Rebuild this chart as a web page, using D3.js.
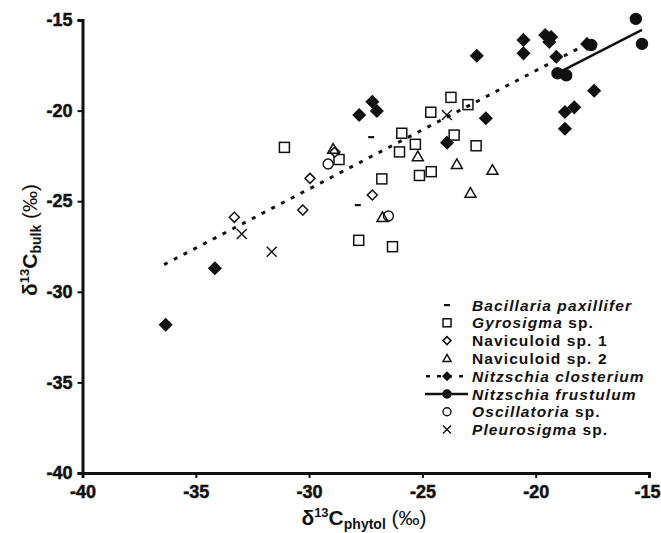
<!DOCTYPE html>
<html>
<head>
<meta charset="utf-8">
<script src="https://cdn.jsdelivr.net/npm/d3@7"></script>
<style>
  body { margin: 0; background: #fff; }
  svg text { font-family: "Liberation Sans", Arial, sans-serif; fill: #111; }
</style>
</head>
<body>
<div id="chart"></div>
<script>
// data: d13C phytol (x) vs d13C bulk (y)
const bacillariaX = [-27.26, -27.85];
const bacillariaY = [-21.46, -25.21];

const gyrosigmaX = [-31.09, -28.68, -26.79, -25.13, -24.61, -26.01, -25.31, -25.91, -24.63, -23.74, -22.99, -23.60, -22.63, -27.81, -26.32];
const gyrosigmaY = [-22.03, -22.70, -23.77, -23.58, -23.37, -22.28, -21.86, -21.25, -20.09, -19.27, -19.67, -21.35, -21.94, -27.16, -27.51];

const navi1X = [-33.30, -30.28, -29.96, -27.21, -28.86];
const navi1Y = [-25.89, -25.49, -23.74, -24.66, -22.28];

const navi2X = [-28.94, -25.20, -23.48, -21.91, -22.88, -26.76];
const navi2Y = [-22.12, -22.54, -22.97, -23.29, -24.55, -25.89];

const closteriumX = [-36.33, -34.16, -27.79, -27.21, -27.01, -23.91, -22.60, -22.20, -20.54, -20.54, -19.58, -19.32, -19.40, -19.09, -17.42, -18.30, -18.71, -18.71, -17.73];
const closteriumY = [-31.82, -28.70, -20.24, -19.51, -20.02, -21.77, -16.97, -20.42, -16.10, -16.84, -15.83, -15.94, -16.21, -17.03, -18.90, -19.82, -20.08, -21.00, -16.32];
const closteriumFitX = [-36.4, -17.7];
const closteriumFitY = [-28.5, -16.3];

const frustulumX = [-15.58, -15.31, -17.55, -19.04, -18.65];
const frustulumY = [-14.94, -16.32, -16.38, -17.94, -18.05];
const frustulumFitX = [-18.84, -15.31];
const frustulumFitY = [-17.81, -15.55];

const oscillatoriaX = [-29.16, -26.50];
const oscillatoriaY = [-22.95, -25.82];

const pleurosigmaX = [-23.92, -32.97, -31.65];
const pleurosigmaY = [-20.24, -26.81, -27.79];

const xTicks = [-40, -35, -30, -25, -20, -15];
const yTicks = [-40, -35, -30, -25, -20, -15];

const width = 661, height = 533;

const svg = d3.select("#chart").append("svg")
    .attr("width", width)
    .attr("height", height);

const x = d3.scaleLinear().domain([-40, -15]).range([82.5, 649]);
const y = d3.scaleLinear().domain([-40, -15]).range([473, 20]);

// axes
const xAxis = svg.append("g")
    .attr("transform", "translate(0," + y(-40) + ")")
    .call(d3.axisBottom(x).tickValues(xTicks).tickSize(5).tickPadding(7).tickFormat(d => String(d)));
const yAxis = svg.append("g")
    .attr("transform", "translate(" + x(-40) + ",0)")
    .call(d3.axisLeft(y).tickValues(yTicks).tickSize(5).tickPadding(5).tickFormat(d => String(d)));

[xAxis, yAxis].forEach(g => {
    g.attr("font-size", 18).attr("font-weight", "bold").attr("font-family", "Liberation Sans, Arial, sans-serif");
    g.select(".domain").attr("stroke", "#111").attr("stroke-width", 3);
    g.selectAll(".tick line").attr("stroke", "#111").attr("stroke-width", 2);
    g.selectAll(".tick text")
        .attr("font-weight", "bold")
        .style("font-size", "18px")
        .style("font-weight", "bold")
        .attr("fill", "#111")
        .attr("stroke", "#111")
        .attr("stroke-width", 0.5);
});
// last x tick: no tick mark, label kept inside the picture
const lastTick = xAxis.selectAll(".tick").filter(d => d === -15);
lastTick.select("line").remove();
lastTick.select("text").attr("text-anchor", "end").attr("x", 11);

// axis titles
function axisTitle(g, sub) {
    g.append("tspan").text("δ").style("font-weight", "bold").style("font-size", "21px");
    g.append("tspan").text("13").attr("dy", -8).style("font-weight", "bold").style("font-size", "13px");
    g.append("tspan").text("C").attr("dy", 8).style("font-weight", "bold").style("font-size", "21px");
    g.append("tspan").text(sub).attr("dy", 4).style("font-weight", "bold").style("font-size", "14px");
    g.append("tspan").text(" (‰)").attr("dy", -4).style("font-size", "21px");
}
const xt = svg.append("text")
    .attr("x", 364).attr("y", 525)
    .attr("text-anchor", "middle");
axisTitle(xt, "phytol");

const yt = svg.append("text")
    .attr("transform", "translate(37,240) rotate(-90)")
    .attr("text-anchor", "middle");
axisTitle(yt, "bulk");

// fit lines
const line = d3.line().x(d => x(d[0])).y(d => y(d[1]));
svg.append("path")
    .datum(d3.zip(closteriumFitX, closteriumFitY))
    .attr("d", line)
    .attr("fill", "none")
    .attr("stroke", "#111")
    .attr("stroke-width", 3)
    .attr("stroke-dasharray", "4,7");
svg.append("path")
    .datum(d3.zip(frustulumFitX, frustulumFitY))
    .attr("d", line)
    .attr("fill", "none")
    .attr("stroke", "#111")
    .attr("stroke-width", 2.5);

// symbol drawing
function marker(g, kind, s) {
    const h = s / 2;
    if (kind === "dash") {
        g.append("rect").attr("x", -3).attr("y", -1).attr("width", 6).attr("height", 2.2).attr("fill", "#111");
    } else if (kind === "square") {
        g.append("rect").attr("x", -h).attr("y", -h).attr("width", s).attr("height", s)
            .attr("fill", "none").attr("stroke", "#111").attr("stroke-width", 1.5);
    } else if (kind === "diamond" || kind === "fdiamond") {
        g.append("path").attr("d", `M0,${-h}L${h},0L0,${h}L${-h},0Z`)
            .attr("fill", kind === "fdiamond" ? "#111" : "#fff")
            .attr("stroke", "#111").attr("stroke-width", 1.5);
    } else if (kind === "triangle") {
        g.append("path").attr("d", `M0,${-h}L${h},${h * 0.75}L${-h},${h * 0.75}Z`)
            .attr("fill", "none").attr("stroke", "#111").attr("stroke-width", 1.5);
    } else if (kind === "circle" || kind === "fcircle") {
        g.append("circle").attr("r", h)
            .attr("fill", kind === "fcircle" ? "#111" : "none")
            .attr("stroke", "#111").attr("stroke-width", 1.4);
    } else if (kind === "cross") {
        g.append("path").attr("d", `M${-h},${-h}L${h},${h}M${-h},${h}L${h},${-h}`)
            .attr("stroke", "#111").attr("stroke-width", 1.4);
    }
}

const series = [
    { xs: bacillariaX, ys: bacillariaY, kind: "dash", size: 6 },
    { xs: gyrosigmaX, ys: gyrosigmaY, kind: "square", size: 10 },
    { xs: navi1X, ys: navi1Y, kind: "diamond", size: 10 },
    { xs: navi2X, ys: navi2Y, kind: "triangle", size: 11 },
    { xs: closteriumX, ys: closteriumY, kind: "fdiamond", size: 12 },
    { xs: frustulumX, ys: frustulumY, kind: "fcircle", size: 11 },
    { xs: oscillatoriaX, ys: oscillatoriaY, kind: "circle", size: 10 },
    { xs: pleurosigmaX, ys: pleurosigmaY, kind: "cross", size: 10 }
];

series.forEach(s => {
    svg.append("g").selectAll("g")
        .data(d3.zip(s.xs, s.ys))
        .enter()
        .append("g")
        .attr("transform", d => "translate(" + x(d[0]) + "," + y(d[1]) + ")")
        .each(function () { marker(d3.select(this), s.kind, s.size); });
});

// legend
const legendItems = [
    { kind: "dash", parts: [["Bacillaria paxillifer", true]] },
    { kind: "square", parts: [["Gyrosigma", true], [" sp.", false]] },
    { kind: "diamond", parts: [["Naviculoid sp. 1", false]] },
    { kind: "triangle", parts: [["Naviculoid sp. 2", false]] },
    { kind: "fdiamond", line: "dash", parts: [["Nitzschia closterium", true]] },
    { kind: "fcircle", line: "solid", parts: [["Nitzschia frustulum", true]] },
    { kind: "circle", parts: [["Oscillatoria", true], [" sp.", false]] },
    { kind: "cross", parts: [["Pleurosigma", true], [" sp.", false]] }
];

const legend = svg.append("g").attr("transform", "translate(447,305)");
legendItems.forEach((item, i) => {
    const row = legend.append("g").attr("transform", "translate(0," + (i * 17.8) + ")");
    if (item.line === "dash") {
        row.append("line").attr("x1", -22).attr("x2", 20).attr("stroke", "#111").attr("stroke-width", 2.5)
            .attr("stroke-dasharray", "4,7").attr("stroke-dashoffset", -1);
    } else if (item.line === "solid") {
        row.append("line").attr("x1", -22).attr("x2", 21).attr("stroke", "#111").attr("stroke-width", 2.5);
    }
    const sym = row.append("g");
    marker(sym, item.kind, item.kind === "dash" ? 6 : 8);
    const t = row.append("text").attr("x", 25).attr("y", 5.5)
        .style("font-size", "15.5px").style("font-weight", "bold")
        .style("letter-spacing", "1.1px");
    item.parts.forEach(p => {
        t.append("tspan").text(p[0]).style("font-style", p[1] ? "italic" : "normal");
    });
});
</script>
</body>
</html>
